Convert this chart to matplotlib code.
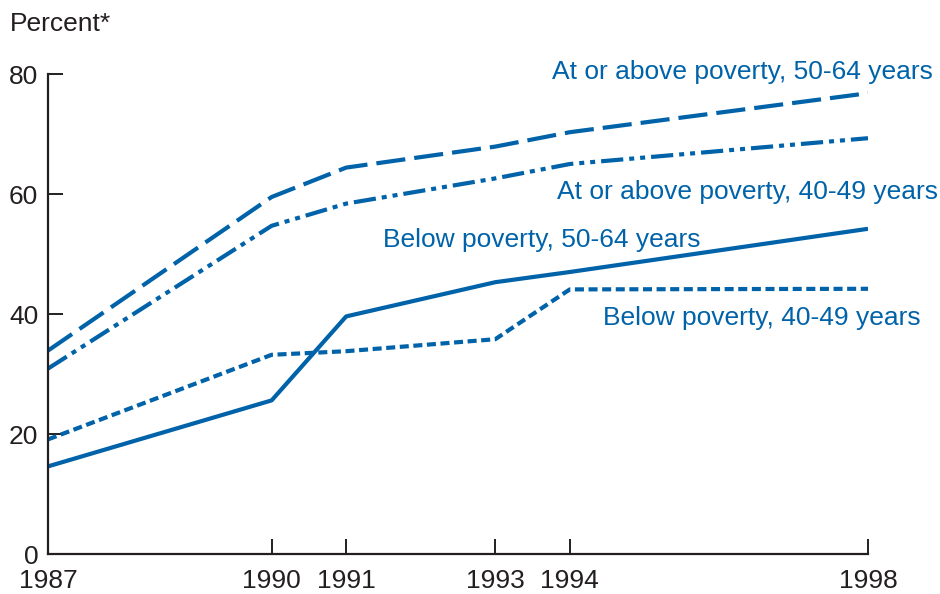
import matplotlib
matplotlib.use("Agg")
import matplotlib.pyplot as plt

plt.rcParams['font.family'] = ['Liberation Sans', 'DejaVu Sans']
plt.rcParams['lines.scale_dashes'] = False

years = [1987, 1990, 1991, 1993, 1994, 1998]
above_50_64 = [33.9, 59.5, 64.4, 67.9, 70.3, 76.8]
above_40_49 = [30.9, 54.7, 58.4, 62.6, 65.0, 69.3]
below_50_64 = [14.6, 25.6, 39.6, 45.3, 47.0, 54.2]
below_40_49 = [19.1, 33.2, 33.8, 35.8, 44.1, 44.2]

labels = ["At or above poverty, 50-64 years",
          "At or above poverty, 40-49 years",
          "Below poverty, 50-64 years",
          "Below poverty, 40-49 years"]
yticks = [0, 20, 40, 60, 80]

blue = '#0063a9'
dark = '#231f20'

fig = plt.figure(figsize=(9.4, 5.94), dpi=100)
ax = fig.add_axes([48/940, 40/594, 820/940, 480/594])

lw = 3.0
ax.plot(years, above_50_64, color=blue, lw=lw, dashes=(21, 6.5), solid_capstyle='butt', dash_capstyle='butt')
ax.plot(years, above_40_49, color=blue, lw=lw, dashes=(16, 4.3, 3.6, 4.3, 3.6, 4.3), dash_capstyle='butt')
ax.plot(years, below_50_64, color=blue, lw=lw, solid_capstyle='butt')
ax.plot(years, below_40_49, color=blue, lw=lw, dashes=(6.5, 3.3), dash_capstyle='butt')

ax.set_xlim(1987, 1998)
ax.set_ylim(0, 80)
ax.set_xticks(years)
ax.set_yticks(yticks)
for s in ['top', 'right']:
    ax.spines[s].set_visible(False)
for s in ['left', 'bottom']:
    ax.spines[s].set_linewidth(1.6)
    ax.spines[s].set_color(dark)
fs = 19
ax.tick_params(direction='in', length=11, width=1.4, color=dark, labelcolor=dark,
               labelsize=fs)
ax.tick_params(axis='x', pad=11)
ax.tick_params(axis='y', pad=7)

ax.text(1998.87, 80.3, labels[0], color=blue, fontsize=fs, ha='right', va='center', clip_on=False)
ax.text(1998.94, 60.4, labels[1], color=blue, fontsize=fs, ha='right', va='center', clip_on=False)
ax.text(1991.49, 52.3, labels[2], color=blue, fontsize=fs, ha='left', va='center', clip_on=False)
ax.text(1994.45, 39.3, labels[3], color=blue, fontsize=fs, ha='left', va='center', clip_on=False)

fig.text(10/940, 1 - 24/594, "Percent*", color=dark, fontsize=fs, ha='left', va='center')

fig.savefig("out.png", dpi=100)
